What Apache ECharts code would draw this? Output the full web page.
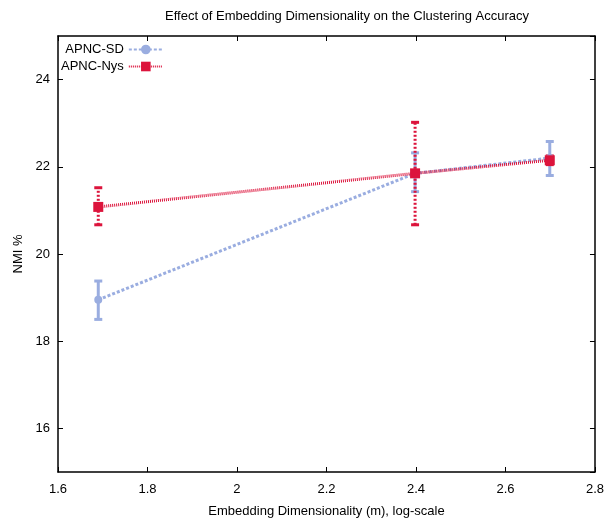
<!DOCTYPE html>
<html><head><meta charset="utf-8">
<script src="https://cdn.jsdelivr.net/npm/echarts@6/dist/echarts.min.js"></script>
<style>html,body{margin:0;padding:0;background:#fff}#c{width:607px;height:523px}</style>
</head><body><div id="c"></div>
<script>
const xTicks = [1.6, 1.8, 2.0, 2.2, 2.4, 2.6, 2.8];
const yTicks = [16, 18, 20, 22, 24];
const logM = [1.69, 2.398, 2.699];
const sdMean = [18.95, 21.85, 22.2];
const sdLow = [18.5, 21.43, 21.8];
const sdHigh = [19.38, 22.32, 22.58];
const nysMean = [21.08, 21.85, 22.15];
const nysLow = [20.67, 20.67, 22.05];
const nysHigh = [21.52, 23.02, 22.25];

const FONT = '"Liberation Sans",Arial,sans-serif';
const SD_COLOR = '#9aade0';
const NYS_COLOR = '#dc143c';

function errSeries(name, low, high, color, dashed, capW) {
  return {
    type: 'custom', name: name, z: 3, color: color,
    data: logM.map((x, i) => [x, low[i], high[i]]),
    renderItem: function (params, api) {
      const x = api.value(0);
      const lo = api.coord([x, api.value(1)]);
      const hi = api.coord([x, api.value(2)]);
      const st = {stroke: color, lineWidth: 3, lineDash: dashed ? [2, 2] : null};
      return {type: 'group', children: [
        {type: 'line', shape: {x1: lo[0], y1: lo[1], x2: hi[0], y2: hi[1]}, style: st},
        {type: 'line', shape: {x1: lo[0] - capW, y1: lo[1], x2: lo[0] + capW, y2: lo[1]}, style: {stroke: color, lineWidth: 3}},
        {type: 'line', shape: {x1: hi[0] - capW, y1: hi[1], x2: hi[0] + capW, y2: hi[1]}, style: {stroke: color, lineWidth: 3}}
      ]};
    },
    encode: {x: 0, y: [1, 2]}, silent: true
  };
}

const chart = echarts.init(document.getElementById('c'), null, {renderer: 'canvas'});
const axisCommon = {
  axisLine: {lineStyle: {color: '#000', width: 1.5}},
  axisTick: {inside: true, length: 5, lineStyle: {color: '#000', width: 1}},
  splitLine: {show: false},
  axisLabel: {color: '#000', fontFamily: FONT, fontSize: 13}
};
chart.setOption({
  animation: false,
  title: {text: 'Effect of Embedding Dimensionality on the Clustering Accuracy', left: 160, top: 5,
    textStyle: {fontFamily: FONT, fontSize: 13, fontWeight: 'normal', color: '#000'}},
  grid: {left: 58, right: 10, top: 36, bottom: 48},
  legend: {
    left: 56, top: 38, orient: 'vertical', align: 'right', itemGap: 4, itemWidth: 34, itemHeight: 12,
    textStyle: {fontFamily: FONT, fontSize: 13, color: '#000'},
    data: ['APNC-SD', 'APNC-Nys']
  },
  xAxis: [
    Object.assign({}, axisCommon, {type: 'value', min: 1.6, max: 2.8, interval: 0.2, position: 'bottom',
      name: 'Embedding Dimensionality (m), log-scale', nameLocation: 'middle', nameGap: 33,
      nameTextStyle: {fontFamily: FONT, fontSize: 13, color: '#000'},
      axisLabel: {color: '#000', fontFamily: FONT, fontSize: 13, margin: 11,
        formatter: v => xTicks.some(t => Math.abs(t - v) < 1e-6) ? String(+v.toFixed(1)) : ''}}),
    Object.assign({}, axisCommon, {type: 'value', min: 1.6, max: 2.8, interval: 0.2, position: 'top',
      axisLabel: {show: false}})
  ],
  yAxis: [
    Object.assign({}, axisCommon, {type: 'value', min: 15, max: 25, position: 'left',
      name: 'NMI %', nameLocation: 'middle', nameGap: 32,
      nameTextStyle: {fontFamily: FONT, fontSize: 13, color: '#000'},
      axisLabel: {color: '#000', fontFamily: FONT, fontSize: 13, margin: 8, showMinLabel: false, showMaxLabel: false,
        formatter: v => yTicks.indexOf(v) >= 0 ? String(v) : ''}}),
    Object.assign({}, axisCommon, {type: 'value', min: 15, max: 25, position: 'right',
      axisLabel: {show: false}})
  ],
  series: [
    {
      name: 'APNC-SD', type: 'line', z: 4,
      data: logM.map((x, i) => [x, sdMean[i]]),
      symbol: 'circle', symbolSize: 8, showSymbol: true,
      itemStyle: {color: SD_COLOR},
      lineStyle: {color: SD_COLOR, width: 3, type: [3, 2]}
    },
    {
      name: 'APNC-Nys', type: 'line', z: 5,
      data: logM.map((x, i) => [x, nysMean[i]]),
      symbol: 'rect', symbolSize: 10, showSymbol: true,
      itemStyle: {color: NYS_COLOR},
      lineStyle: {color: NYS_COLOR, width: 3, type: [1, 1]}
    },
    errSeries('sdErr', sdLow, sdHigh, SD_COLOR, false, 4),
    errSeries('nysErr', nysLow, nysHigh, NYS_COLOR, true, 4)
  ]
});
</script></body></html>
